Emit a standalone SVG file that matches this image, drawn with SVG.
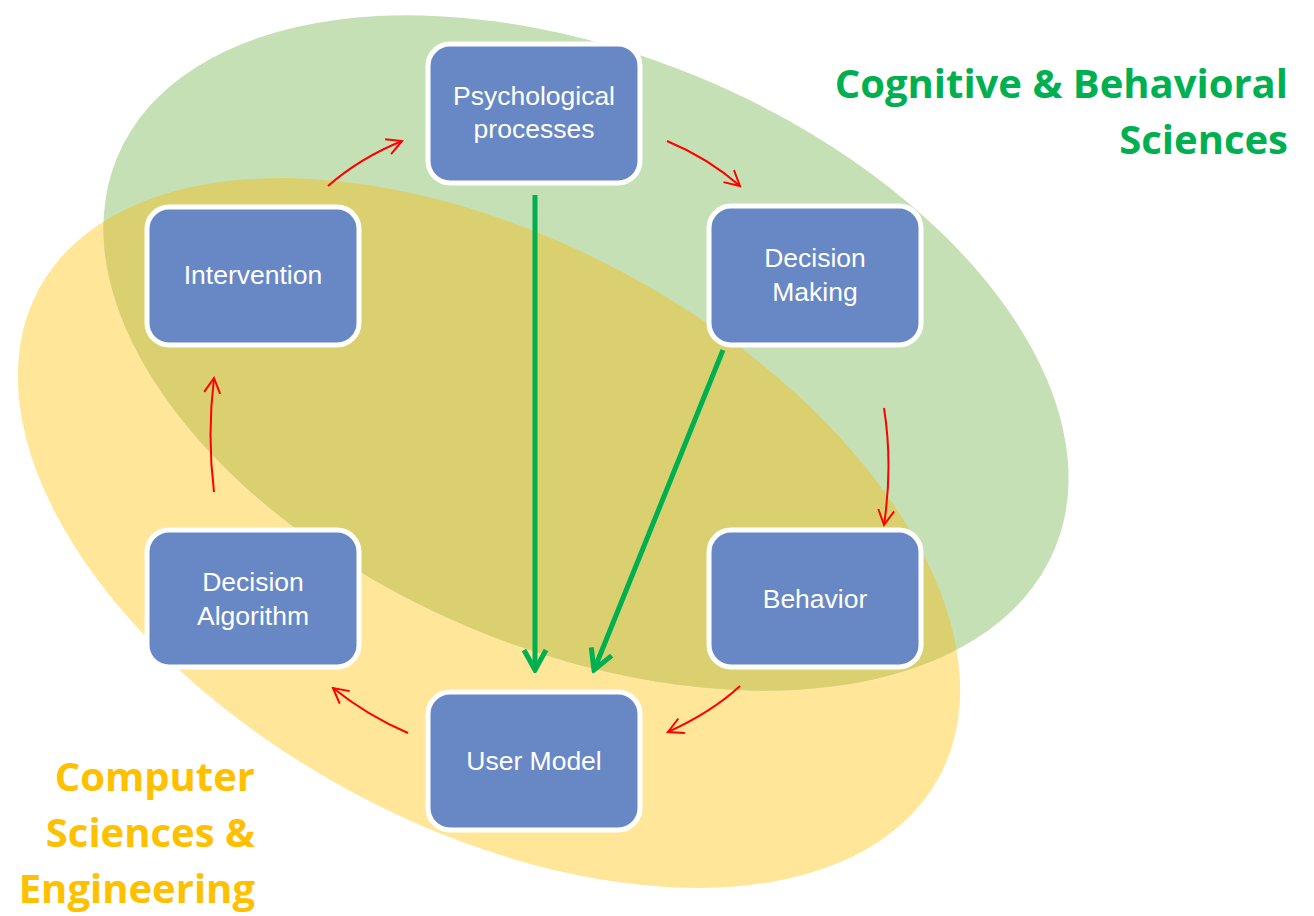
<svg xmlns="http://www.w3.org/2000/svg" width="1314" height="916" viewBox="0 0 1314 916">
<style>
.node rect{fill:#6888c5;stroke:#ffffff;stroke-width:5}
.node text{fill:#ffffff;font-family:"Liberation Sans",Arial,sans-serif;font-size:26.5px;text-anchor:middle}
.red{fill:none;stroke:#ff0000;stroke-width:2;marker-end:url(#ar)}
.grn{fill:none;stroke:#00b050;stroke-width:5;marker-end:url(#ag)}
.lab{font-family:"Open Sans","Liberation Sans",sans-serif;font-weight:bold;font-size:40px;text-anchor:end}
</style>
<defs>
<marker id="ar" markerUnits="userSpaceOnUse" viewBox="-16 -10 18 20" refX="0" refY="0" markerWidth="18" markerHeight="20" orient="auto">
<path d="M-15,-8 L0,0 L-15,8" fill="none" stroke="#ff0000" stroke-width="2"/>
</marker>
<marker id="ag" markerUnits="userSpaceOnUse" viewBox="-22 -14 25 28" refX="0" refY="0" markerWidth="25" markerHeight="28" orient="auto">
<path d="M-20,-11 L0,0 L-20,11" fill="none" stroke="#00b050" stroke-width="5"/>
</marker>
<clipPath id="gclip"><ellipse cx="586" cy="353" rx="508" ry="298" transform="rotate(22.7 586 353)"/></clipPath>
</defs>
<rect width="1314" height="916" fill="#ffffff"/>
<g id="regions">
<ellipse cx="489" cy="533" rx="512" ry="293" transform="rotate(28.5 489 533)" fill="#ffe699"/>
<ellipse cx="586" cy="353" rx="508" ry="298" transform="rotate(22.7 586 353)" fill="#c5e0b4"/>
<g clip-path="url(#gclip)">
<ellipse cx="489" cy="533" rx="512" ry="293" transform="rotate(28.5 489 533)" fill="#dbd06f"/>
</g>
</g>
<g id="labels">
<text class="lab" fill="#00b050" x="1288" y="98">Cognitive &amp; Behavioral</text>
<text class="lab" fill="#00b050" x="1288" y="154">Sciences</text>
<text class="lab" fill="#ffc000" x="255" y="791">Computer</text>
<text class="lab" fill="#ffc000" x="255" y="847">Sciences &amp;</text>
<text class="lab" fill="#ffc000" x="255" y="903">Engineering</text>
</g>
<g id="connectors">
<path class="red" d="M328,186 Q360,158 402,141"/>
<path class="red" d="M667,141 Q708,158 740,186"/>
<path class="red" d="M884,408 Q893,465 884,525"/>
<path class="red" d="M740,686 Q712,712 668,732"/>
<path class="red" d="M408,733 Q368,716 333,688"/>
<path class="red" d="M214,492 Q207,435 214,378"/>
<path class="grn" d="M535,195 L535,670"/>
<path class="grn" d="M723,350 L594,670"/>
</g>
<g id="n-psych" class="node"><rect x="428" y="44" width="212" height="139" rx="22"/><text x="534" y="105">Psychological</text><text x="534" y="138">processes</text></g>
<g id="n-decision" class="node"><rect x="709" y="206" width="212" height="139" rx="22"/><text x="815" y="267">Decision</text><text x="815" y="301">Making</text></g>
<g id="n-behavior" class="node"><rect x="709" y="530" width="212" height="137" rx="22"/><text x="815" y="608">Behavior</text></g>
<g id="n-user" class="node"><rect x="428" y="692" width="212" height="138" rx="22"/><text x="534" y="770">User Model</text></g>
<g id="n-algo" class="node"><rect x="147" y="530" width="212" height="137" rx="22"/><text x="253" y="591">Decision</text><text x="253" y="625">Algorithm</text></g>
<g id="n-interv" class="node"><rect x="147" y="207" width="212" height="138" rx="22"/><text x="253" y="284">Intervention</text></g>
</svg>
